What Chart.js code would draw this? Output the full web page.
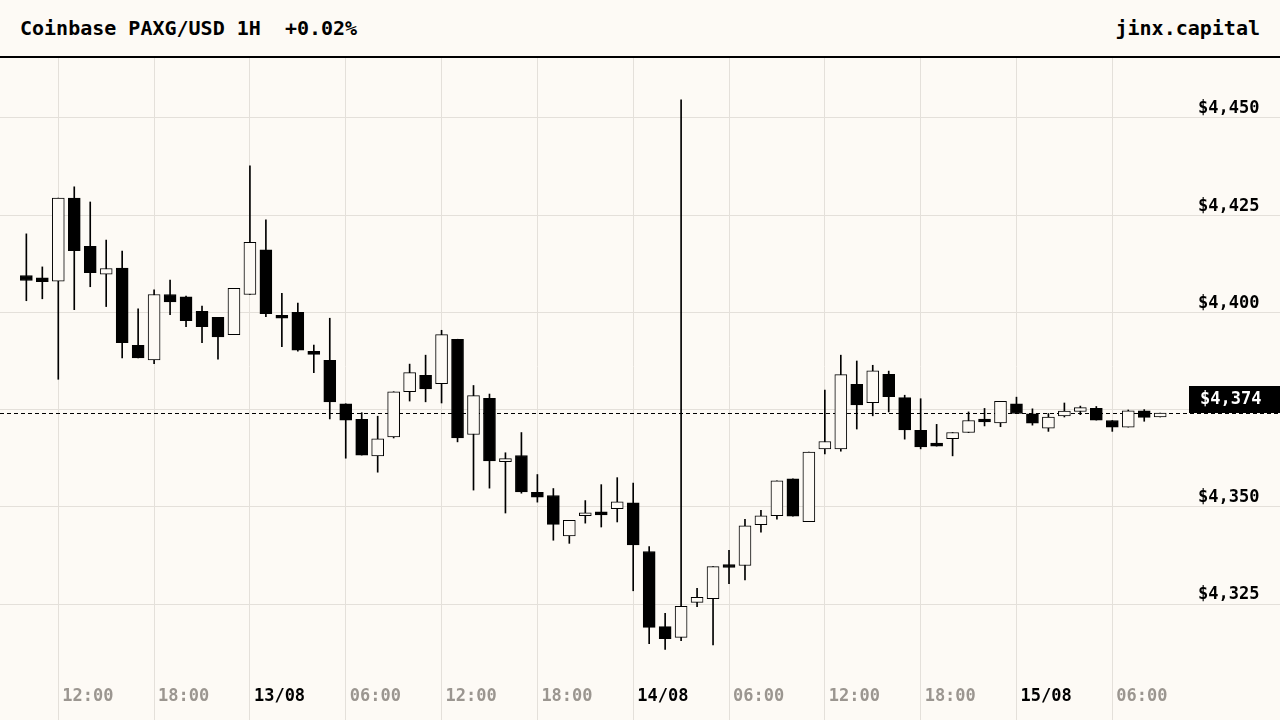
<!DOCTYPE html>
<html>
<head>
<meta charset="utf-8">
<script src="https://cdn.jsdelivr.net/npm/chart.js@4.4.1/dist/chart.umd.min.js"></script>
<style>
  html, body { margin: 0; padding: 0; background: #fdfaf5; }
  body { width: 1280px; height: 720px; position: relative; overflow: hidden; font-family: "DejaVu Sans Mono", monospace; }
  #head { position: absolute; left: 0; top: 0; width: 1280px; height: 56px; border-bottom: 2px solid #000; }
  #title { position: absolute; left: 20px; top: 16px; font-size: 20px; font-weight: bold; white-space: pre; color: #000; }
  #brand { position: absolute; right: 20px; top: 16px; font-size: 20px; font-weight: bold; color: #000; }
  #wrap { position: absolute; left: 0; top: 58px; width: 1280px; height: 662px; }
</style>
</head>
<body>
<div id="head">
  <div id="title">Coinbase PAXG/USD 1H  +0.02%</div>
  <div id="brand">jinx.capital</div>
</div>
<div id="wrap"><canvas id="candles" width="1280" height="662"></canvas></div>
<script>
// hourly candles, 12/08 10:00 -> 15/08 09:00 (hours counted from 12/08 00:00)
var firstHour = 10;
var openP  = [4409.5, 4408.9, 4408.0, 4429.4, 4417.0, 4409.8, 4411.4, 4391.5, 4387.8, 4404.6, 4404.0, 4400.3,
              4398.7, 4394.3, 4404.6, 4416.1, 4398.8, 4400.0, 4389.8, 4387.7, 4376.5, 4372.5, 4363.1, 4368.0,
              4379.6, 4383.8, 4381.7, 4393.1, 4368.6, 4377.9, 4361.6, 4363.2, 4353.7, 4352.9, 4342.5, 4347.7,
              4348.7, 4349.5, 4351.0, 4338.5, 4319.2, 4316.4, 4325.4, 4326.4, 4334.7, 4334.9, 4345.4, 4347.7,
              4357.2, 4346.2, 4364.9, 4364.9, 4381.5, 4376.8, 4384.1, 4378.1, 4369.7, 4365.8, 4367.5, 4369.1,
              4372.3, 4371.6, 4376.5, 4373.9, 4370.2, 4373.4, 4374.5, 4375.3, 4372.2, 4370.5, 4374.7, 4373.1];
var highP  = [4420.2, 4411.7, 4429.4, 4432.3, 4428.4, 4418.6, 4415.8, 4400.9, 4405.8, 4408.3, 4404.2, 4401.6,
              4398.7, 4406.2, 4437.7, 4423.8, 4404.9, 4402.4, 4391.6, 4398.5, 4376.5, 4374.2, 4373.3, 4379.6,
              4386.7, 4389.0, 4395.4, 4393.1, 4381.2, 4379.0, 4363.9, 4369.1, 4358.3, 4354.7, 4346.5, 4351.6,
              4355.7, 4357.5, 4356.1, 4339.8, 4322.6, 4454.7, 4329.0, 4334.6, 4338.8, 4346.8, 4349.1, 4356.7,
              4357.2, 4364.1, 4380.0, 4389.0, 4387.5, 4386.4, 4384.9, 4378.7, 4377.8, 4371.2, 4369.1, 4374.4,
              4375.3, 4377.1, 4378.2, 4375.2, 4374.0, 4376.7, 4375.9, 4375.8, 4372.2, 4374.9, 4375.0, 4374.1];
var lowP   = [4403.0, 4403.5, 4382.8, 4400.7, 4406.6, 4401.5, 4388.3, 4388.3, 4386.8, 4399.4, 4396.3, 4392.2,
              4388.0, 4394.3, 4404.6, 4398.9, 4391.2, 4390.0, 4384.5, 4372.6, 4362.5, 4363.3, 4358.9, 4367.7,
              4377.2, 4377.0, 4376.7, 4366.7, 4354.3, 4354.8, 4348.4, 4353.5, 4351.2, 4341.4, 4340.6, 4345.8,
              4344.8, 4346.1, 4328.4, 4314.8, 4313.3, 4315.6, 4324.3, 4314.5, 4330.2, 4331.2, 4343.5, 4346.8,
              4347.6, 4346.2, 4363.6, 4364.3, 4370.0, 4373.4, 4374.4, 4367.4, 4364.9, 4365.6, 4363.1, 4369.1,
              4370.8, 4370.6, 4374.0, 4371.0, 4369.4, 4373.1, 4373.7, 4372.3, 4369.4, 4370.5, 4372.0, 4373.1];
var closeP = [4408.2, 4407.9, 4429.4, 4415.9, 4410.2, 4411.3, 4392.2, 4388.3, 4404.6, 4402.7, 4397.9, 4396.3,
              4393.7, 4406.2, 4418.0, 4399.7, 4398.5, 4390.3, 4389.2, 4377.0, 4372.3, 4363.3, 4367.5, 4379.6,
              4384.5, 4380.3, 4394.3, 4367.7, 4378.6, 4361.8, 4362.1, 4353.8, 4352.5, 4345.5, 4346.5, 4348.3,
              4347.9, 4351.3, 4340.2, 4319.0, 4316.1, 4324.4, 4326.7, 4334.6, 4334.4, 4345.1, 4347.7, 4356.7,
              4347.6, 4364.1, 4366.8, 4384.0, 4376.2, 4385.0, 4378.3, 4369.8, 4365.4, 4365.6, 4369.1, 4372.2,
              4371.8, 4377.1, 4374.0, 4371.5, 4373.1, 4374.6, 4375.5, 4372.3, 4370.5, 4374.7, 4373.0, 4374.1];
var priceTicks = [4325, 4350, 4375, 4400, 4425, 4450];
var dayLabels = ['12/08', '13/08', '14/08', '15/08'];

var bg = '#fdfaf5';
var gridCol = '#e4e0da';
var lastClose = closeP[closeP.length - 1];

var wicks = openP.map(function (o, i) { return { x: firstHour + i, y: [lowP[i], highP[i]] }; });
var bodies = openP.map(function (o, i) { return { x: firstHour + i, y: [o, closeP[i]] }; });
var bodyFill = openP.map(function (o, i) { return closeP[i] >= o ? bg : '#000'; });

function money(v) { return '$' + v.toLocaleString('en-US', { maximumFractionDigits: 0 }); }

var lastPrice = {
  id: 'lastPrice',
  beforeDatasetsDraw: function (chart) {
    var ctx = chart.ctx, y = Math.round(chart.scales.y.getPixelForValue(lastClose)) + 0.5;
    ctx.save();
    ctx.strokeStyle = '#000';
    ctx.lineWidth = 1;
    ctx.setLineDash([4, 3]);
    ctx.beginPath();
    ctx.moveTo(chart.chartArea.left, y);
    ctx.lineTo(chart.width, y);
    ctx.stroke();
    ctx.restore();
  },
  afterDraw: function (chart) {
    var ctx = chart.ctx, y = Math.round(chart.scales.y.getPixelForValue(lastClose));
    ctx.save();
    ctx.fillStyle = '#000';
    ctx.fillRect(chart.width - 91, y - 27, 91, 27);
    ctx.fillStyle = '#fff';
    ctx.font = 'bold 17px "DejaVu Sans Mono"';
    ctx.textAlign = 'left';
    ctx.textBaseline = 'middle';
    ctx.fillText(money(Math.round(lastClose)), chart.width - 80, y - 13);
    ctx.restore();
  }
};

new Chart(document.getElementById('candles').getContext('2d'), {
  type: 'bar',
  data: {
    datasets: [{
      label: 'wick',
      data: wicks,
      backgroundColor: '#000',
      borderWidth: 0,
      barThickness: 1,
      grouped: false,
      order: 2
    }, {
      label: 'body',
      data: bodies,
      backgroundColor: bodyFill,
      borderColor: '#000',
      borderWidth: 1,
      borderSkipped: false,
      barThickness: 12,
      minBarLength: 3,
      grouped: false,
      order: 1
    }]
  },
  options: {
    responsive: false,
    maintainAspectRatio: false,
    animation: false,
    devicePixelRatio: 1,
    layout: { padding: 0 },
    plugins: { legend: { display: false }, tooltip: { enabled: false } },
    scales: {
      x: {
        type: 'linear',
        position: 'bottom',
        offset: false,
        min: 8.35,
        max: 82.24,
        afterFit: function (s) { s.height = 45; },
        border: { display: false },
        grid: { color: gridCol, lineWidth: 1, tickLength: 45, drawTicks: true, offset: false },
        ticks: {
          stepSize: 6,
          includeBounds: false,
          autoSkip: false,
          maxRotation: 0,
          align: 'start',
          labelOffset: 4,
          padding: -34,
          color: function (c) { return c.tick && c.tick.value % 24 === 0 ? '#000' : '#9b9690'; },
          font: { family: 'DejaVu Sans Mono', size: 17, weight: 'bold' },
          callback: function (v) {
            if (v % 24 === 0) return dayLabels[v / 24];
            var h = v % 24;
            return (h < 10 ? '0' : '') + h + ':00';
          }
        }
      },
      y: {
        position: 'right',
        min: 4306.74,
        max: 4465.43,
        afterFit: function (s) { s.width = 100; },
        afterBuildTicks: function (s) { s.ticks = priceTicks.map(function (v) { return { value: v }; }); },
        border: { display: false },
        grid: { color: gridCol, lineWidth: 1, tickLength: 100, drawTicks: true },
        ticks: {
          crossAlign: 'near',
          padding: -82,
          labelOffset: -9,
          color: '#000',
          font: { family: 'DejaVu Sans Mono', size: 17, weight: 'bold' },
          callback: function (v) { return money(v); }
        }
      }
    }
  },
  plugins: [lastPrice]
});
</script>
</body>
</html>
